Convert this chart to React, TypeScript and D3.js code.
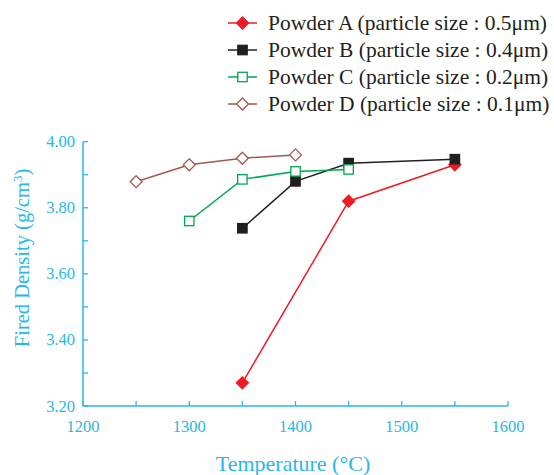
import React from "react";
import * as d3 from "d3";

const temperatures = [1200, 1250, 1300, 1350, 1400, 1450, 1500, 1550, 1600];
const xTickLabels = [1200, 1300, 1400, 1500, 1600];
const yTickLabels = [3.2, 3.4, 3.6, 3.8, 4.0];
const yMinorTicks = [3.3, 3.5, 3.7, 3.9];

const powderATemps = [1350, 1450, 1550];
const powderAValues = [3.27, 3.82, 3.93];
const powderBTemps = [1350, 1400, 1450, 1550];
const powderBValues = [3.738, 3.88, 3.935, 3.947];
const powderCTemps = [1300, 1350, 1400, 1450];
const powderCValues = [3.76, 3.886, 3.91, 3.916];
const powderDTemps = [1250, 1300, 1350, 1400];
const powderDValues = [3.879, 3.93, 3.95, 3.96];

const seriesNames = [
  "Powder A (particle size : 0.5\u03bcm)",
  "Powder B (particle size : 0.4\u03bcm)",
  "Powder C (particle size : 0.2\u03bcm)",
  "Powder D (particle size : 0.1\u03bcm)",
];

const AXIS = "#29b6e8";
const FONT = "'Liberation Serif', 'DejaVu Serif', serif";

type Series = { name: string; t: number[]; v: number[]; color: string; marker: "diamondFill" | "squareFill" | "squareOpen" | "diamondOpen" };

const series: Series[] = [
  { name: seriesNames[0], t: powderATemps, v: powderAValues, color: "#ed1c24", marker: "diamondFill" },
  { name: seriesNames[1], t: powderBTemps, v: powderBValues, color: "#231f20", marker: "squareFill" },
  { name: seriesNames[2], t: powderCTemps, v: powderCValues, color: "#00a651", marker: "squareOpen" },
  { name: seriesNames[3], t: powderDTemps, v: powderDValues, color: "#a05a4c", marker: "diamondOpen" },
];

function Marker({ x, y, s }: { x: number; y: number; s: Series }) {
  if (s.marker === "diamondFill" || s.marker === "diamondOpen") {
    const r = 6;
    const d = `M${x},${y - r}L${x + r},${y}L${x},${y + r}L${x - r},${y}Z`;
    return (
      <path d={d} fill={s.marker === "diamondFill" ? s.color : "#fff"} stroke={s.color} strokeWidth={1.3} />
    );
  }
  const h = 4.7;
  return (
    <rect x={x - h} y={y - h} width={2 * h} height={2 * h}
      fill={s.marker === "squareFill" ? s.color : "#fff"} stroke={s.color} strokeWidth={1.3} />
  );
}

export default function App() {
  const W = 554, H = 475;
  const x = d3.scaleLinear().domain([1200, 1600]).range([83, 508]);
  const y = d3.scaleLinear().domain([3.2, 4.0]).range([406, 141.7]);
  const line = d3.line<[number, number]>().x((d) => x(d[0])).y((d) => y(d[1]));

  return (
    <svg width={W} height={H} style={{ position: "absolute", left: 0, top: 0, background: "#fff" }}>
      {/* axes */}
      <line x1={x(1200)} x2={x(1600)} y1={y(3.2)} y2={y(3.2)} stroke={AXIS} strokeWidth={1.5} />
      <line x1={x(1200)} x2={x(1200)} y1={y(3.2)} y2={y(4.0)} stroke={AXIS} strokeWidth={1.5} />
      {temperatures.map((t) => (
        <line key={"xt" + t} x1={x(t)} x2={x(t)} y1={y(3.2)} y2={y(3.2) - 5} stroke={AXIS} strokeWidth={1.3} />
      ))}
      {[...yTickLabels, ...yMinorTicks].map((v) => (
        <line key={"yt" + v} x1={x(1200)} x2={x(1200) + 5} y1={y(v)} y2={y(v)} stroke={AXIS} strokeWidth={1.3} />
      ))}
      {xTickLabels.map((t) => (
        <text key={"xl" + t} x={x(t)} y={y(3.2) + 26} textAnchor="middle" fill={AXIS} fontFamily={FONT} fontSize={16.5}>
          {t}
        </text>
      ))}
      {yTickLabels.map((v) => (
        <text key={"yl" + v} x={x(1200) - 8} y={y(v) + 5.5} textAnchor="end" fill={AXIS} fontFamily={FONT} fontSize={16.5}>
          {v.toFixed(2)}
        </text>
      ))}
      <text x={293} y={471} textAnchor="middle" fill={AXIS} fontFamily={FONT} fontSize={22}>
        Temperature (°C)
      </text>
      <text transform="translate(29,258) rotate(-90)" textAnchor="middle" fill={AXIS} fontFamily={FONT} fontSize={20.5}>
        Fired Density (g/cm<tspan dy={-7} fontSize={13}>3</tspan><tspan dy={7}>)</tspan>
      </text>

      {/* series */}
      {series.map((s) => {
        const pts = s.t.map((t, i) => [t, s.v[i]] as [number, number]);
        return (
          <g key={s.name}>
            <path d={line(pts) || ""} fill="none" stroke={s.color} strokeWidth={1.5} />
            {pts.map((p, i) => (
              <Marker key={i} x={x(p[0])} y={y(p[1])} s={s} />
            ))}
          </g>
        );
      })}

      {/* legend */}
      {series.map((s, i) => {
        const cy = 23 + i * 27;
        return (
          <g key={"lg" + i}>
            <line x1={228} x2={257} y1={cy} y2={cy} stroke={s.color} strokeWidth={1.5} />
            <Marker x={242.5} y={cy} s={s} />
            <text x={268} y={cy + 7} fontFamily={FONT} fontSize={21.5} fill="#231f20">
              {s.name}
            </text>
          </g>
        );
      })}
    </svg>
  );
}
